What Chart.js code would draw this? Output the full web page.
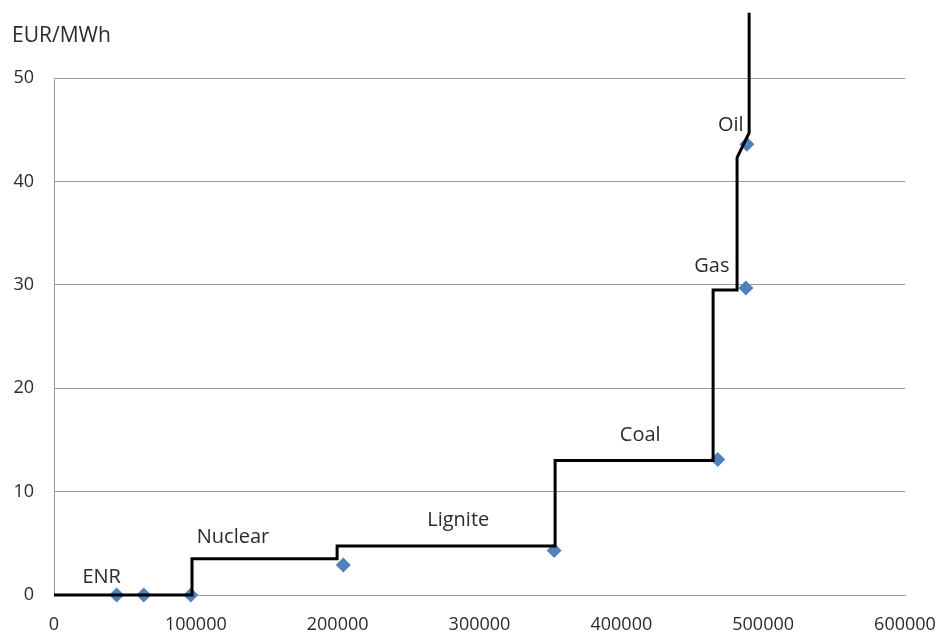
<!DOCTYPE html>
<html>
<head>
<meta charset="utf-8">
<script src="https://cdn.jsdelivr.net/npm/chart.js@4"></script>
<style>
html,body{margin:0;padding:0;background:#fff;}
#wrap{width:941px;height:635px;position:relative;}
</style>
</head>
<body>
<div id="wrap"><canvas id="c" width="941" height="635"></canvas></div>
<script>
// Merit-order step curve (cumulative capacity MW, price EUR/MWh)
const curveX = [0, 97300, 97300, 199600, 199600, 353300, 353300, 464700, 464700, 481600, 481600, 490100, 490100];
const curveY = [0, 0, 3.5, 3.5, 4.75, 4.75, 13, 13, 29.5, 29.5, 42.3, 44.7, 56.3];
// Marker points
const markerX = [44200, 63300, 96400, 204000, 352600, 468000, 487800, 488500];
const markerY = [0, 0, 0, 2.9, 4.3, 13.1, 29.7, 43.6];
// Technology labels
const labelText = ["ENR", "Nuclear", "Lignite", "Coal", "Gas", "Oil"];
const labelX = [33600, 126200, 285000, 413300, 463800, 477200];
const labelY = [1.7, 5.55, 7.2, 15.4, 31.8, 45.4];
const yTicks = [0, 10, 20, 30, 40, 50];
const xTicks = [0, 100000, 200000, 300000, 400000, 500000, 600000];
const yUnit = "EUR/MWh";

const FONT = "'Open Sans', 'Noto Sans', sans-serif";
const TXT = "#2b2b2b";

const labelsPlugin = {
  id: 'techLabels',
  afterDatasetsDraw(chart) {
    const {ctx, scales: {x, y}, chartArea} = chart;
    ctx.save();
    ctx.font = "20px " + FONT;
    ctx.fillStyle = TXT;
    ctx.textAlign = 'center';
    ctx.textBaseline = 'middle';
    labelText.forEach((t, i) => {
      ctx.fillText(t, x.getPixelForValue(labelX[i]), y.getPixelForValue(labelY[i]));
    });
    ctx.font = "21px " + FONT;
    ctx.textAlign = 'left';
    ctx.fillText(yUnit, 12, chartArea.top - 42);
    ctx.restore();
  }
};

new Chart(document.getElementById('c'), {
  type: 'scatter',
  data: {
    datasets: [
      {
        data: curveX.map((v, i) => ({x: v, y: curveY[i]})),
        showLine: true,
        borderColor: '#000000',
        borderWidth: 3,
        pointRadius: 0,
        fill: false,
        clip: false,
        tension: 0
      },
      {
        data: markerX.map((v, i) => ({x: v, y: markerY[i]})),
        pointStyle: 'rectRot',
        pointRadius: 7.5,
        pointHoverRadius: 7.5,
        backgroundColor: '#4F81BD',
        borderColor: '#4F81BD',
        borderWidth: 0,
        showLine: false,
        clip: false
      }
    ]
  },
  options: {
    responsive: false,
    animation: false,
    layout: {padding: {top: 78, right: 36, left: 0, bottom: 0}},
    plugins: {legend: {display: false}, tooltip: {enabled: false}},
    scales: {
      x: {
        type: 'linear',
        min: 0, max: 600000,
        afterBuildTicks: s => { s.ticks = xTicks.map(v => ({value: v})); },
        afterFit: s => { s.height = 40; s.paddingLeft = 0; s.paddingRight = 0; },
        grid: {display: false, drawTicks: false},
        border: {display: true, color: '#9a9a9a', width: 1},
        ticks: {font: {family: FONT, size: 18}, color: TXT, padding: 19, maxRotation: 0, callback: v => String(v)}
      },
      y: {
        type: 'linear',
        min: 0, max: 50,
        afterBuildTicks: s => { s.ticks = yTicks.map(v => ({value: v})); },
        afterFit: s => { s.width = 54; },
        grid: {display: true, color: '#9a9a9a', lineWidth: 1, drawTicks: false},
        border: {display: true, color: '#9a9a9a', width: 1},
        ticks: {font: {family: FONT, size: 18}, color: TXT, padding: 20, callback: v => String(v)}
      }
    }
  },
  plugins: [labelsPlugin]
});
</script>
</body>
</html>
